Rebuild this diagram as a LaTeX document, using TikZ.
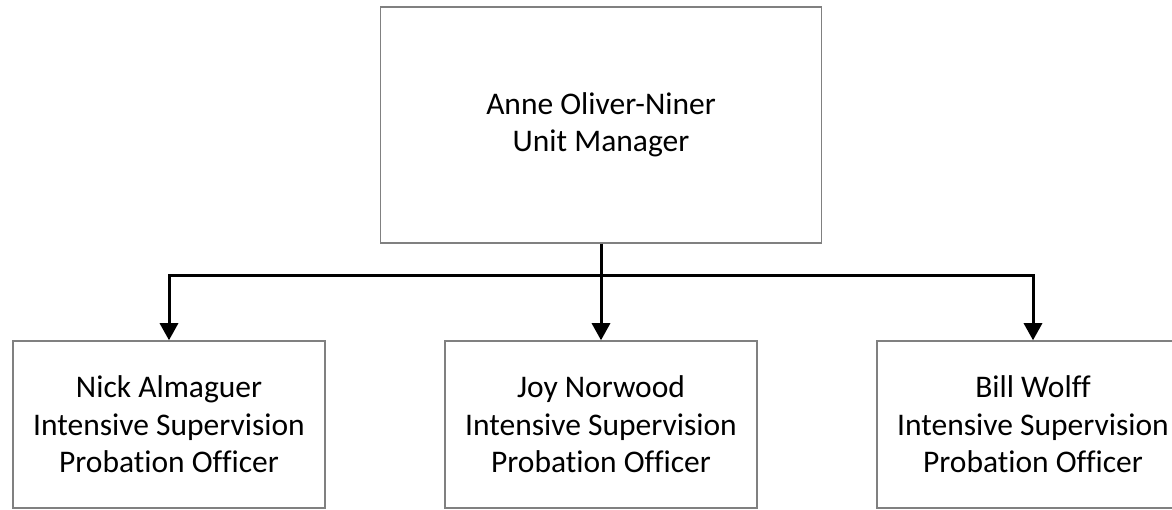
\documentclass[tikz,border=0pt]{standalone}
\usepackage{fontspec}
\setmainfont[Ligatures={NoCommon}]{Carlito}
\usetikzlibrary{arrows.meta}

\begin{document}
\begin{tikzpicture}[x=1pt,y=-1pt,
  box/.style={draw=black!50,line width=1.5pt,fill=white,align=center,inner sep=0pt,
    font=\fontsize{31.5}{37.5}\selectfont},
  mgrbox/.style={box,minimum width=441pt,minimum height=236pt},
  pobox/.style={box,minimum width=312pt,minimum height=167pt},
  conn/.style={draw=black,line width=3pt,-{Triangle[width=18pt,length=17pt]}}]
  \useasboundingbox (0,0) rectangle (1172,510);

  % manager
  \node[mgrbox] (mgr) at (601,125) {Anne Oliver-Niner\\Unit Manager};

  % officers
  \node[pobox] (po1) at (169,424.5) {Nick Almaguer\\Intensive Supervision\\Probation Officer};
  \node[pobox] (po2) at (601,424.5) {Joy Norwood\\Intensive Supervision\\Probation Officer};
  \node[pobox] (po3) at (1033,424.5) {Bill Wolff\\Intensive Supervision\\Probation Officer};

  \coordinate (bus) at (601,276);
  \draw[black,line width=3pt] (mgr.south) -- (bus);
  \draw[conn] (bus) -| (po1.north);
  \draw[conn] (bus) -- (po2.north);
  \draw[conn] (bus) -| (po3.north);
\end{tikzpicture}
\end{document}
